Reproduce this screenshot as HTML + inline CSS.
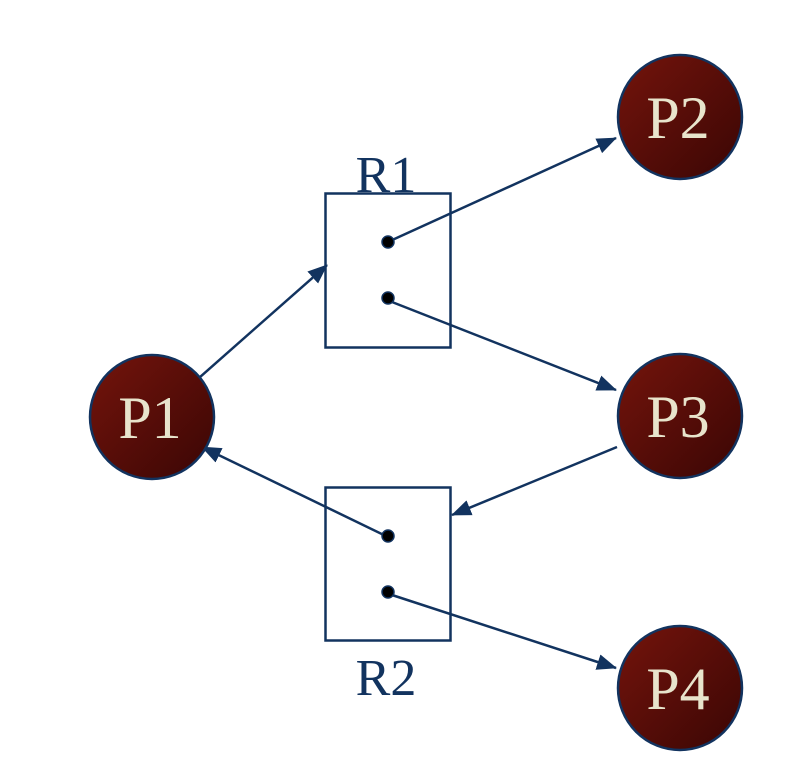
<!DOCTYPE html>
<html><head><meta charset="utf-8"><style>html,body{margin:0;padding:0;background:#fff}</style></head>
<body>
<svg width="788" height="776" xmlns="http://www.w3.org/2000/svg">
<defs>
<linearGradient id="g" x1="0" y1="0" x2="1" y2="1">
<stop offset="0" stop-color="#74140c"/><stop offset="1" stop-color="#3a0604"/>
</linearGradient>
<marker id="a" markerWidth="10" markerHeight="10" refX="9" refY="5" orient="auto" markerUnits="userSpaceOnUse" viewBox="0 0 10 10">
<path d="M0,0 L10,5 L0,10 z" fill="#12335f"/>
</marker>
<marker id="ab" markerWidth="20" markerHeight="16" refX="19" refY="8" orient="auto" markerUnits="userSpaceOnUse" viewBox="0 0 20 16">
<path d="M0,0 L20,8 L0,16 z" fill="#12335f"/>
</marker>
</defs>
<g stroke="#12335f" stroke-width="2.5" fill="none">
<rect x="325.5" y="193.5" width="125" height="154"/>
<rect x="325.5" y="487.5" width="125" height="153"/>
<line x1="200" y1="377" x2="327" y2="265" marker-end="url(#ab)"/>
<line x1="390" y1="241" x2="616" y2="138" marker-end="url(#ab)"/>
<line x1="392" y1="302" x2="616" y2="390" marker-end="url(#ab)"/>
<line x1="617" y1="447" x2="452" y2="515" marker-end="url(#ab)"/>
<line x1="388" y1="537" x2="202" y2="447" marker-end="url(#ab)"/>
<line x1="392" y1="595" x2="616" y2="668" marker-end="url(#ab)"/>
</g>
<g fill="#000" stroke="#12335f" stroke-width="1.5">
<circle cx="388" cy="242" r="6"/><circle cx="388" cy="298" r="6"/>
<circle cx="388" cy="536" r="6"/><circle cx="388" cy="592" r="6"/>
</g>
<g fill="url(#g)" stroke="#12335f" stroke-width="2.5">
<circle cx="152" cy="417" r="62"/>
<circle cx="680" cy="117" r="62"/>
<circle cx="680" cy="416" r="62"/>
<circle cx="680" cy="688" r="62"/>
</g>
<g font-family="'Liberation Serif',serif" font-size="60" fill="#e8e4cc" text-anchor="middle">
<text x="150" y="438">P1</text>
<text x="678" y="138">P2</text>
<text x="678" y="437">P3</text>
<text x="678" y="709">P4</text>
</g>
<g font-family="'Liberation Serif',serif" font-size="52" fill="#12335f" text-anchor="middle">
<text x="386" y="192">R1</text>
<text x="386" y="695">R2</text>
</g>
</svg>
</body></html>
